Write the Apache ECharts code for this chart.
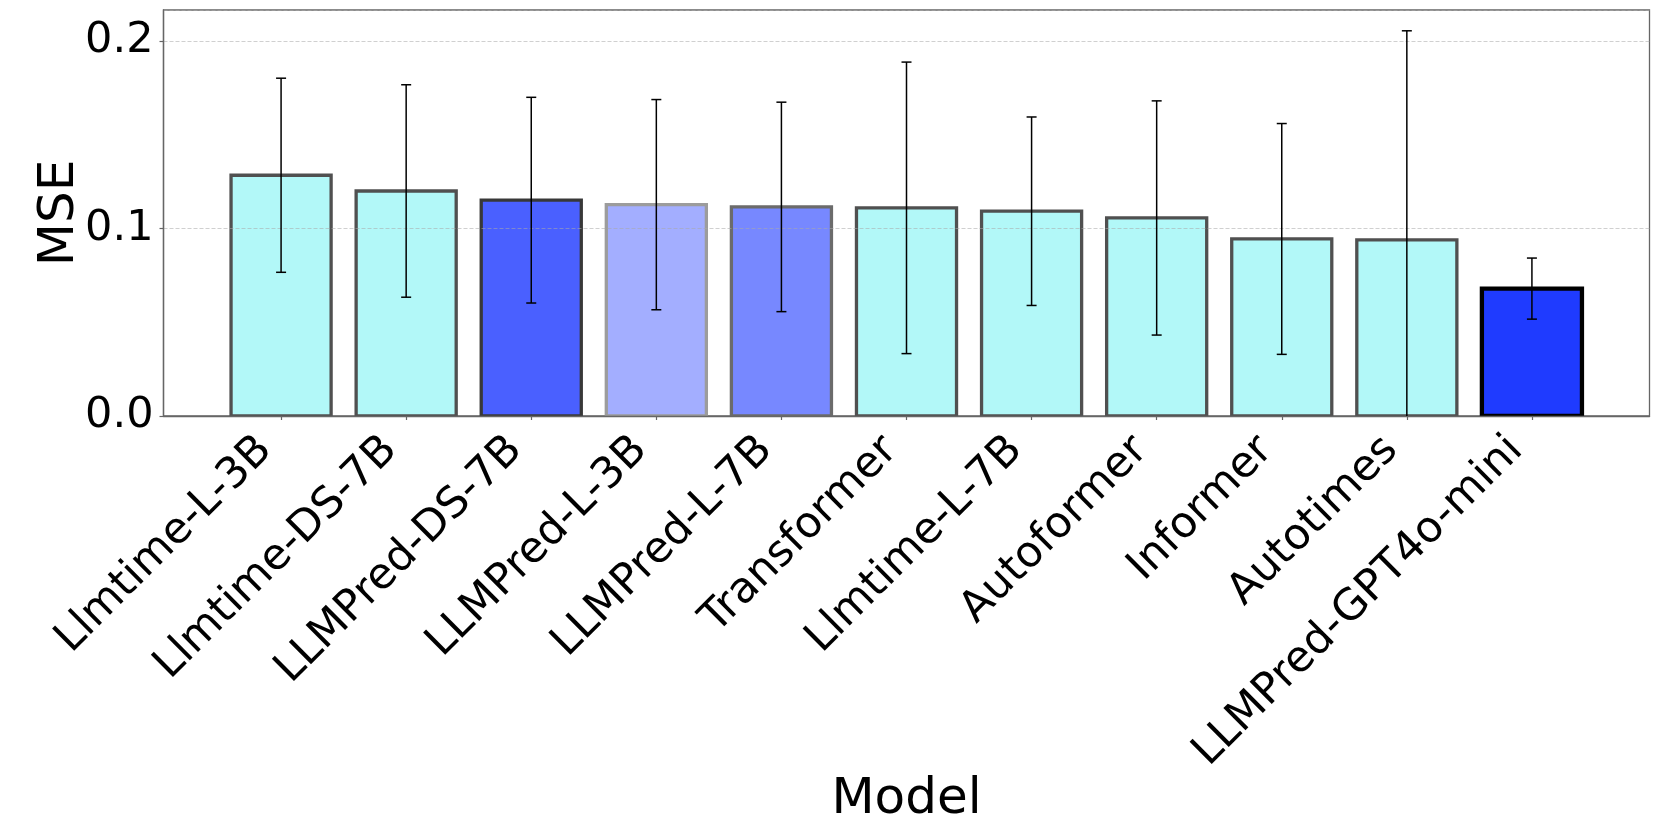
<!DOCTYPE html>
<html>
<head>
<meta charset="utf-8">
<script src="https://cdn.jsdelivr.net/npm/echarts@6/dist/echarts.min.js"></script>
<style>
  html, body { margin: 0; padding: 0; background: #fff; }
  #chart { width: 1661px; height: 830px; }
</style>
</head>
<body>
<div id="chart"></div>
<script>
// ---- data ----
const categories = ['Llmtime-L-3B', 'Llmtime-DS-7B', 'LLMPred-DS-7B', 'LLMPred-L-3B', 'LLMPred-L-7B',
  'Transformer', 'Llmtime-L-7B', 'Autoformer', 'Informer', 'Autotimes', 'LLMPred-GPT4o-mini'];
const mseValues = [0.1285, 0.1201, 0.1152, 0.1128, 0.1116, 0.1111, 0.1093, 0.1057, 0.0945, 0.0940, 0.0680];
const mseErrors = [0.0518, 0.0567, 0.0549, 0.0561, 0.0559, 0.0778, 0.0503, 0.0625, 0.0616, 0.1116, 0.0163];
const yTickLabels = ['0.0', '0.1', '0.2'];

// ---- styles (per bar) ----
const CYAN = '#b2f8f8', CYAN_EDGE = '#505050';
const fillColors = [CYAN, CYAN, '#4a60ff', '#a3aeff', '#7788ff', CYAN, CYAN, CYAN, CYAN, CYAN, '#1f3bff'];
const edgeColors = [CYAN_EDGE, CYAN_EDGE, '#383838', '#9c9c9c', '#6b6b6b', CYAN_EDGE, CYAN_EDGE, CYAN_EDGE, CYAN_EDGE, CYAN_EDGE, '#000000'];
const edgeWidths = [3.3, 3.3, 3.3, 3.3, 3.3, 3.3, 3.3, 3.3, 3.3, 3.3, 4.3];

const FONT = 'DejaVu Sans';
const idx = categories.map((_, i) => i);
const barData = categories.map((c, i) => [i, mseValues[i]]);
const errData = categories.map((c, i) => [i, mseValues[i] - mseErrors[i], mseValues[i] + mseErrors[i]]);

const chart = echarts.init(document.getElementById('chart'), null, { renderer: 'canvas' });
chart.setOption({
  animation: false,
  backgroundColor: '#ffffff',
  grid: {
    left: 163.5, right: 11.5, top: 10, bottom: 414,
    show: true, borderColor: '#666666', borderWidth: 1.3, backgroundColor: 'transparent'
  },
  xAxis: {
    type: 'value',
    min: -0.94, max: 10.94,
    z: 10,
    name: 'Model',
    nameLocation: 'middle',
    nameGap: 359,
    nameMoveOverlap: false,
    nameTextStyle: { fontFamily: FONT, fontSize: 50, color: '#000' },
    axisLine: { show: true, onZero: false, lineStyle: { color: '#666666', width: 1.3 } },
    axisTick: { show: true, customValues: idx, length: 4, lineStyle: { color: '#666666', width: 1.2 } },
    axisLabel: {
      customValues: idx,
      rotate: 45,
      margin: 12,
      padding: [0, 22, 0, 0],
      fontFamily: FONT, fontSize: 43, color: '#000',
      formatter: v => categories[Math.round(v)]
    },
    splitLine: { show: false }
  },
  yAxis: {
    type: 'value',
    min: 0, max: 0.2167, interval: 0.1,
    z: 10,
    name: 'MSE',
    nameLocation: 'middle',
    nameGap: 78,
    nameMoveOverlap: false,
    nameTextStyle: { fontFamily: FONT, fontSize: 50, color: '#000' },
    axisLine: { show: true, onZero: false, lineStyle: { color: '#666666', width: 1.3 } },
    axisTick: { show: true, length: 4, lineStyle: { color: '#666666', width: 1.2 } },
    axisLabel: {
      margin: 10,
      showMaxLabel: false,
      fontFamily: FONT, fontSize: 43, color: '#000',
      formatter: v => {
        const k = Math.round(v / 0.1);
        return Math.abs(v - k * 0.1) < 1e-6 && yTickLabels[k] !== undefined ? yTickLabels[k] : '';
      }
    },
    splitLine: { show: true, lineStyle: { color: 'rgba(170,170,170,0.55)', width: 1, type: [4, 2] } }
  },
  series: [
    {
      type: 'custom',
      name: 'MSE',
      z: 2,
      clip: true,
      data: barData,
      renderItem: (params, api) => {
        const i = params.dataIndex;
        const x = api.value(0), y = api.value(1);
        const p0 = api.coord([x - 0.4, 0]);
        const p1 = api.coord([x + 0.4, y]);
        return {
          type: 'rect',
          shape: { x: p0[0], y: p1[1], width: p1[0] - p0[0], height: p0[1] - p1[1] },
          style: { fill: fillColors[i], stroke: edgeColors[i], lineWidth: edgeWidths[i] }
        };
      }
    },
    {
      type: 'custom',
      name: 'error',
      z: 20,
      clip: true,
      data: errData,
      renderItem: (params, api) => {
        const x = api.value(0);
        const lo = api.coord([x, api.value(1)]);
        const hi = api.coord([x, api.value(2)]);
        const cap = 5;
        const st = { stroke: '#000', lineWidth: 1.5, fill: null };
        return {
          type: 'group',
          children: [
            { type: 'line', shape: { x1: lo[0], y1: lo[1], x2: hi[0], y2: hi[1] }, style: st },
            { type: 'line', shape: { x1: hi[0] - cap, y1: hi[1], x2: hi[0] + cap, y2: hi[1] }, style: st },
            { type: 'line', shape: { x1: lo[0] - cap, y1: lo[1], x2: lo[0] + cap, y2: lo[1] }, style: st }
          ]
        };
      }
    }
  ]
});
</script>
</body>
</html>
